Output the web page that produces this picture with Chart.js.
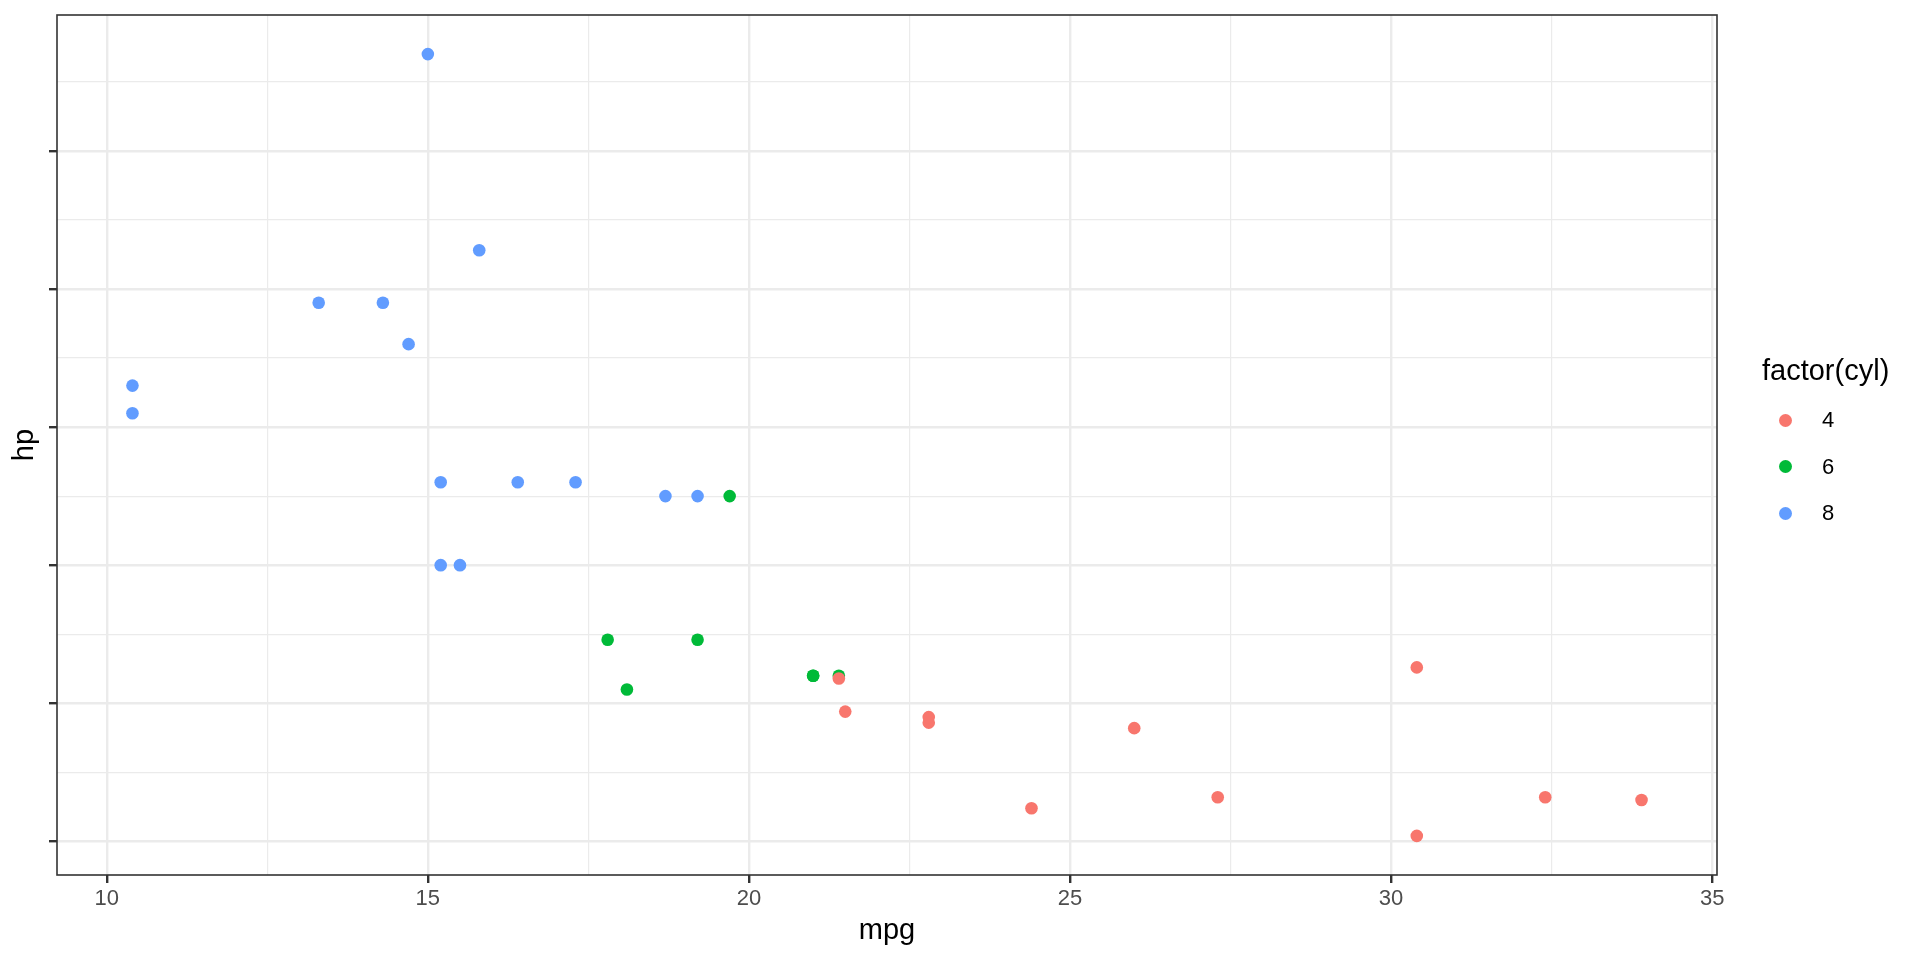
<!DOCTYPE html>
<html>
<head>
<meta charset="utf-8">
<script src="https://cdn.jsdelivr.net/npm/chart.js@4/dist/chart.umd.min.js"></script>
<style>
  html, body { margin: 0; padding: 0; background: #ffffff; }
  #wrap { position: relative; width: 1920px; height: 960px; }
  canvas { position: absolute; left: 0; top: 0; }
  #legend { position: absolute; left: 0; top: 0; width: 1920px; height: 960px; pointer-events: none;
            font-family: "Liberation Sans", Arial, sans-serif; color: #000; }
  .lt { position: absolute; left: 1762px; top: 352px; font-size: 29px; line-height: 36px; white-space: nowrap; }
  .dot { position: absolute; width: 13px; height: 13px; border-radius: 50%; }
  .lab { position: absolute; left: 1822px; font-size: 22px; line-height: 26px; }
</style>
</head>
<body>
<div id="wrap">
  <canvas id="c" width="1920" height="960"></canvas>
  <div id="legend"></div>
</div>
<script>
// mtcars: mpg and hp by cylinder group
const cylLevels = ['4', '6', '8'];
const cylColors = ['#F8766D', '#00BA38', '#619CFF'];

const mpg4 = [22.8, 24.4, 22.8, 32.4, 30.4, 33.9, 21.5, 27.3, 26.0, 30.4, 21.4];
const hp4  = [93, 62, 95, 66, 52, 65, 97, 66, 91, 113, 109];

const mpg6 = [21.0, 21.0, 21.4, 18.1, 19.2, 17.8, 19.7];
const hp6  = [110, 110, 110, 105, 123, 123, 175];

const mpg8 = [18.7, 14.3, 16.4, 17.3, 15.2, 10.4, 10.4, 14.7, 15.5, 15.2, 13.3, 19.2, 15.8, 15.0];
const hp8  = [175, 245, 180, 180, 180, 205, 215, 230, 150, 150, 245, 175, 264, 335];

const xTitle = 'mpg';
const yTitle = 'hp';
const legendTitle = 'factor(cyl)';

const xMin = 9.225, xMax = 35.075;
const yMin = 37.85, yMax = 349.15;

function pts(xs, ys) { return xs.map((x, i) => ({ x: x, y: ys[i] })); }
const groups = [pts(mpg4, hp4), pts(mpg6, hp6), pts(mpg8, hp8)];

const FONT = '"Liberation Sans", Arial, sans-serif';

const panelBorder = {
  id: 'panelBorder',
  afterDraw(chart) {
    const a = chart.chartArea, ctx = chart.ctx;
    ctx.save();
    ctx.strokeStyle = '#333333';
    ctx.lineWidth = 1.6;
    ctx.strokeRect(a.left, a.top, a.right - a.left, a.bottom - a.top);
    ctx.restore();
  }
};

function isMajor(ctx, step) {
  if (!ctx || !ctx.tick) return false;
  const v = ctx.tick.value / step;
  return Math.abs(v - Math.round(v)) < 1e-6;
}

new Chart(document.getElementById('c'), {
  type: 'scatter',
  data: {
    datasets: groups.map((g, i) => ({
      label: cylLevels[i],
      data: g,
      backgroundColor: cylColors[i],
      borderWidth: 0,
      pointRadius: 6.3,
      pointHoverRadius: 6.3
    }))
  },
  options: {
    responsive: false,
    animation: false,
    events: [],
    layout: { padding: { left: 0, top: 15, right: 203, bottom: 0 } },
    plugins: { legend: { display: false }, tooltip: { enabled: false } },
    scales: {
      x: {
        type: 'linear',
        position: 'bottom',
        min: xMin, max: xMax,
        afterFit(s) { s.height = 85; },
        border: { display: false },
        grid: {
          color: '#EBEBEB',
          lineWidth: c => isMajor(c, 5) ? 2.4 : 1.2,
          drawTicks: true,
          tickLength: 8,
          tickWidth: 2.4,
          tickColor: c => isMajor(c, 5) ? '#333333' : 'rgba(0,0,0,0)'
        },
        ticks: {
          stepSize: 2.5,
          includeBounds: false,
          autoSkip: false,
          maxRotation: 0,
          padding: 3,
          color: '#4D4D4D',
          font: { family: FONT, size: 22 },
          callback: v => (Math.abs(v / 5 - Math.round(v / 5)) < 1e-6 ? String(v) : '')
        },
        title: {
          display: true, text: xTitle, color: '#000000',
          font: { family: FONT, size: 29 },
          padding: { top: 0, bottom: 12 }
        }
      },
      y: {
        type: 'linear',
        position: 'left',
        min: yMin, max: yMax,
        afterFit(s) { s.width = 57; },
        border: { display: false },
        grid: {
          color: '#EBEBEB',
          lineWidth: c => isMajor(c, 50) ? 2.4 : 1.2,
          drawTicks: true,
          tickLength: 8,
          tickWidth: 2.4,
          tickColor: c => isMajor(c, 50) ? '#333333' : 'rgba(0,0,0,0)'
        },
        ticks: {
          stepSize: 25,
          includeBounds: false,
          autoSkip: false,
          padding: 0,
          font: { family: FONT, size: 22 },
          callback: () => ''
        },
        title: {
          display: true, text: yTitle, color: '#000000',
          font: { family: FONT, size: 29 },
          padding: { top: 8, bottom: 0 }
        }
      }
    }
  },
  plugins: [panelBorder]
});

// HTML legend
const lg = document.getElementById('legend');
const t = document.createElement('div');
t.className = 'lt';
t.textContent = legendTitle;
lg.appendChild(t);
const keyY = [420, 466.5, 513];
cylLevels.forEach((lv, i) => {
  const d = document.createElement('div');
  d.className = 'dot';
  d.style.left = (1785 - 6.5) + 'px';
  d.style.top = (keyY[i] - 6.5) + 'px';
  d.style.background = cylColors[i];
  lg.appendChild(d);
  const l = document.createElement('div');
  l.className = 'lab';
  l.style.top = (keyY[i] - 13) + 'px';
  l.textContent = lv;
  lg.appendChild(l);
});
</script>
</body>
</html>
